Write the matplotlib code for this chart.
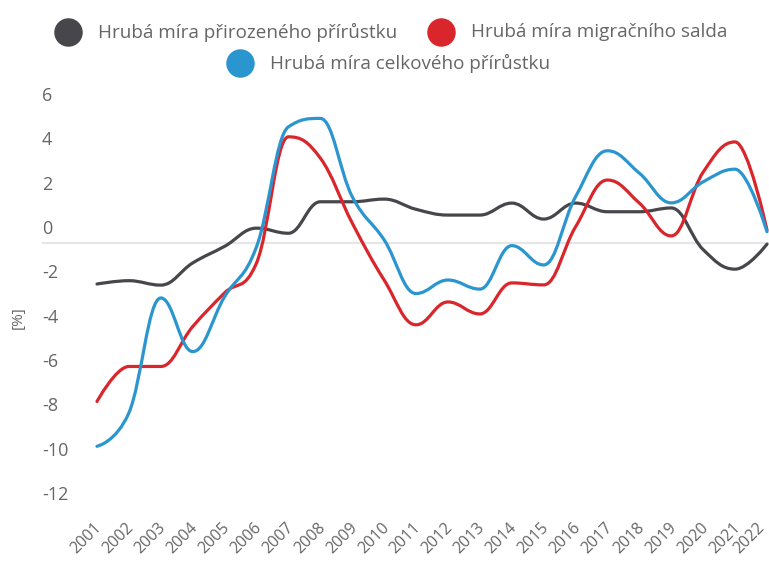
import numpy as np
import matplotlib
matplotlib.use("Agg")
from matplotlib import pyplot as plt
from matplotlib.path import Path
from matplotlib.patches import PathPatch
from matplotlib.lines import Line2D
from matplotlib import transforms

plt.rcParams['font.family'] = ['Open Sans', 'DejaVu Sans']

# data
roky = list(range(2001, 2023))
prirozeny = [-1.85, -1.7, -1.9, -0.9, -0.15, 0.67, 0.44, 1.86, 1.86, 1.98, 1.52,
             1.26, 1.26, 1.8, 1.08, 1.8, 1.41, 1.41, 1.58, -0.3, -1.18, -0.05]
migracni = [-7.15, -5.57, -5.57, -3.77, -2.25, -0.9, 4.79, 3.83, 0.9, -1.67, -3.69,
            -2.66, -3.2, -1.8, -1.89, 0.73, 2.84, 1.8, 0.32, 3.2, 4.56, 0.58]
celkovy = [-9.17, -7.66, -2.48, -4.9, -2.42, -0.17, 5.24, 5.62, 2.09, 0.14, -2.28,
           -1.67, -2.08, -0.12, -0.99, 2.09, 4.16, 3.15, 1.81, 2.76, 3.33, 0.51]
nazvy = ["Hrubá míra přirozeného přírůstku", "Hrubá míra migračního salda",
         "Hrubá míra celkového přírůstku"]
barvy = ["#46464b", "#d9262c", "#2b95d0"]
yticky = [6, 4, 2, 0, -2, -4, -6, -8, -10, -12]

sedy = "#666666"


# spline ve stylu highcharts (kontrolni body bezierovych krivek)
def spline_path(xs, ys):
    n = len(xs)
    sm = 1.5
    den = sm + 1
    right = [(xs[i], ys[i]) for i in range(n)]
    left = [(xs[i], ys[i]) for i in range(n)]
    for i in range(1, n - 1):
        x, y = xs[i], ys[i]
        px, py = xs[i - 1], ys[i - 1]
        nx, ny = xs[i + 1], ys[i + 1]
        lx = (sm * x + px) / den
        ly = (sm * y + py) / den
        rx = (sm * x + nx) / den
        ry = (sm * y + ny) / den
        if rx != lx:
            corr = ((ry - ly) * (rx - x)) / (rx - lx) + y - ry
            ly += corr
            ry += corr
        if ly > max(py, y):
            ly = max(py, y)
            ry = 2 * y - ly
        elif ly < min(py, y):
            ly = min(py, y)
            ry = 2 * y - ly
        if ry > max(ny, y):
            ry = max(ny, y)
            ly = 2 * y - ry
        elif ry < min(ny, y):
            ry = min(ny, y)
            ly = 2 * y - ry
        left[i] = (lx, ly)
        right[i] = (rx, ry)
    verts = [(xs[0], ys[0])]
    codes = [Path.MOVETO]
    for i in range(1, n):
        verts += [right[i - 1], left[i], (xs[i], ys[i])]
        codes += [Path.CURVE4] * 3
    return Path(verts, codes)


fig = plt.figure(figsize=(7.69, 5.61), dpi=100)
W, H = 769, 561
# plocha grafu: x od 42 px do 769 px, y: 6 -> 110 px, -12 -> 509 px
ax = fig.add_axes([42 / W, 1 - 509 / H, (769 - 42) / W, (509 - 110) / H])
pxrok = 670 / 21
ax.set_xlim(2001 - 55 / pxrok, 2022 + 2 / pxrok)
ax.set_ylim(-12, 6)
for s in ax.spines.values():
    s.set_visible(False)
ax.set_yticks([])
ax.set_xticks([])

ax.axhline(0, color="#e6e6e6", lw=1.6, zorder=1)

for data, c in zip([prirozeny, migracni, celkovy], barvy):
    p = PathPatch(spline_path(roky, data), fill=False, edgecolor=c, lw=2.3,
                  capstyle='round', joinstyle='round', zorder=3, clip_on=False)
    ax.add_patch(p)

# popisky osy y - uvnitr plochy, nad mrizkou
posun = transforms.ScaledTranslation(0, 14 / 100, fig.dpi_scale_trans)
for v in yticky:
    ax.text(0, v, str(v), transform=ax.get_yaxis_transform() + posun,
            ha='left', va='center', fontsize=13, color=sedy)

ax.text(18 / W, 1 - 318 / H, "[%]", transform=fig.transFigure, rotation=90,
        ha='center', va='center', fontsize=11, color=sedy)

# popisky osy x (posledni trochu doleva, at se vejde)
for r in roky:
    dx = -3 if r < 2022 else -10
    posun_x = transforms.ScaledTranslation(dx / 100, -(520 - 509) / 100, fig.dpi_scale_trans)
    ax.text(r, 0, str(r), transform=ax.get_xaxis_transform() + posun_x,
            rotation=45, rotation_mode='anchor', ha='right', va='top',
            fontsize=11.5, color=sedy)

# legenda
def polozka(cx, cy, barva, text):
    fig.add_artist(Line2D([cx / W], [1 - cy / H], marker='o', markersize=19.5,
                          color=barva, transform=fig.transFigure, ls=''))
    fig.text((cx + 30) / W, 1 - cy / H, text, ha='left', va='center',
             fontsize=13.6, color=sedy)

polozka(68, 32, barvy[0], nazvy[0])
polozka(441, 32, barvy[1], nazvy[1])
polozka(240, 63, barvy[2], nazvy[2])

fig.savefig("out.png", dpi=100)
